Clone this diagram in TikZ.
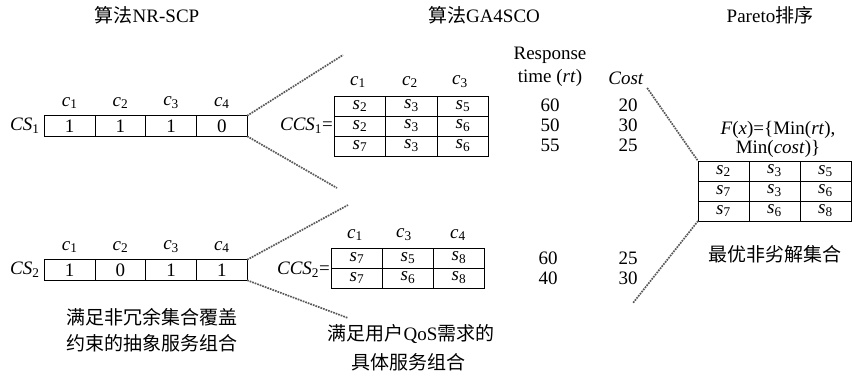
\documentclass[tikz,border=0pt]{standalone}
\usepackage{fontspec}
\setmainfont{Liberation Serif}
\newfontfamily\cjk{Noto Sans CJK SC}
\newcommand{\isub}[2]{\textit{#1}\textsubscript{#2}}

\begin{document}
\begin{tikzpicture}[x=1pt,y=-1pt,
    every node/.style={font=\fontsize{19}{22}\selectfont},
    cell/.style={draw, line width=0.8pt, minimum width=50.7pt, minimum height=20.5pt, inner sep=0pt, outer sep=0pt},
    link/.style={black!65, line width=1.7pt, dash pattern=on 1.7pt off 1pt}]
                \useasboundingbox (0,0) rectangle (852,376);

                % titles
                \node (alg1) at (147,15) {{\cjk 算法}NR-SCP};
                \node (alg2) at (484,15) {{\cjk 算法}GA4SCO};
                \node (alg3) at (770,15) {Pareto{\cjk 排序}};

                % abstract combination CS1
                \node[anchor=east] (cs1) at (43,126) {\isub{CS}{1}};
                \node[cell] (cs1-1) at (69.7,126) {1};
                \node[cell] (cs1-2) at (120.4,126) {1};
                \node[cell] (cs1-3) at (171.1,126) {1};
                \node[cell] (cs1-4) at (221.8,126) {0};
                \node (cs1-c1) at (69.7,103) {\isub{c}{1}};
                \node (cs1-c2) at (120.4,103) {\isub{c}{2}};
                \node (cs1-c3) at (171.1,103) {\isub{c}{3}};
                \node (cs1-c4) at (221.8,103) {\isub{c}{4}};

                % abstract combination CS2
                \node[anchor=east] (cs2) at (43,270) {\isub{CS}{2}};
                \node[cell] (cs2-1) at (69.7,270) {1};
                \node[cell] (cs2-2) at (120.4,270) {0};
                \node[cell] (cs2-3) at (171.1,270) {1};
                \node[cell] (cs2-4) at (221.8,270) {1};
                \node (cs2-c1) at (69.7,247) {\isub{c}{1}};
                \node (cs2-c2) at (120.4,247) {\isub{c}{2}};
                \node (cs2-c3) at (171.1,247) {\isub{c}{3}};
                \node (cs2-c4) at (221.8,247) {\isub{c}{4}};

                \node (note1) at (152,317) {\cjk 满足非冗余集合覆盖};
                \node (note2) at (152,343) {\cjk 约束的抽象服务组合};

                % concrete combinations CCS1
                \node[anchor=east,inner sep=1pt] (ccs1) at (334,126) {\isub{CCS}{1}=};
                \node[cell,minimum height=20pt,minimum width=51.7pt] (ccs1-11) at (360,106) {\isub{s}{2}};
                \node[cell,minimum height=20pt,minimum width=51.7pt] (ccs1-12) at (411.5,106) {\isub{s}{3}};
                \node[cell,minimum height=20pt,minimum width=51.7pt] (ccs1-13) at (463,106) {\isub{s}{5}};
                \node[cell,minimum height=20pt,minimum width=51.7pt] (ccs1-21) at (360,126) {\isub{s}{2}};
                \node[cell,minimum height=20pt,minimum width=51.7pt] (ccs1-22) at (411.5,126) {\isub{s}{3}};
                \node[cell,minimum height=20pt,minimum width=51.7pt] (ccs1-23) at (463,126) {\isub{s}{6}};
                \node[cell,minimum height=20pt,minimum width=51.7pt] (ccs1-31) at (360,146) {\isub{s}{7}};
                \node[cell,minimum height=20pt,minimum width=51.7pt] (ccs1-32) at (411.5,146) {\isub{s}{3}};
                \node[cell,minimum height=20pt,minimum width=51.7pt] (ccs1-33) at (463,146) {\isub{s}{6}};
                \node (ccs1-c1) at (358,82) {\isub{c}{1}};
                \node (ccs1-c2) at (410,82) {\isub{c}{2}};
                \node (ccs1-c3) at (460,82) {\isub{c}{3}};

                % concrete combinations CCS2
                \node[anchor=east,inner sep=1pt] (ccs2) at (331,270) {\isub{CCS}{2}=};
                \node[cell,minimum height=20pt,minimum width=51pt] (ccs2-11) at (357,258) {\isub{s}{7}};
                \node[cell,minimum height=20pt,minimum width=51pt] (ccs2-12) at (408,258) {\isub{s}{5}};
                \node[cell,minimum height=20pt,minimum width=51pt] (ccs2-13) at (459,258) {\isub{s}{8}};
                \node[cell,minimum height=20pt,minimum width=51pt] (ccs2-21) at (357,278) {\isub{s}{7}};
                \node[cell,minimum height=20pt,minimum width=51pt] (ccs2-22) at (408,278) {\isub{s}{6}};
                \node[cell,minimum height=20pt,minimum width=51pt] (ccs2-23) at (459,278) {\isub{s}{8}};
                \node (ccs2-c1) at (355,235) {\isub{c}{1}};
                \node (ccs2-c3) at (404,235) {\isub{c}{3}};
                \node (ccs2-c4) at (458,235) {\isub{c}{4}};

                \node (note3) at (411,334) {{\cjk 满足用户}QoS{\cjk 需求的}};
                \node (note4) at (408,362) {\cjk 具体服务组合};

                % QoS values
                \node (resp) at (550,55) {Response};
                \node (rt) at (550,78) {time (\textit{rt})};
                \node (cost) at (626,78) {\textit{Cost}};
                \node (rt11) at (550,105) {60};
                \node (rt12) at (550,125) {50};
                \node (rt13) at (550,145) {55};
                \node (co11) at (628,105) {20};
                \node (co12) at (628,125) {30};
                \node (co13) at (628,145) {25};
                \node (rt21) at (548,258) {60};
                \node (rt22) at (548,278) {40};
                \node (co21) at (628,258) {25};
                \node (co22) at (628,278) {30};

                % Pareto set
                \node (fx1) at (778,130) {\textit{F}(\textit{x})=\{Min(\textit{rt}),};
                \node (fx2) at (778,149) {Min(\textit{cost})\}};
                \node[cell,minimum height=20pt,minimum width=51pt] (par-11) at (723.5,171) {\isub{s}{2}};
                \node[cell,minimum height=20pt,minimum width=51pt] (par-12) at (774.5,171) {\isub{s}{3}};
                \node[cell,minimum height=20pt,minimum width=51pt] (par-13) at (825.5,171) {\isub{s}{5}};
                \node[cell,minimum height=20pt,minimum width=51pt] (par-21) at (723.5,191) {\isub{s}{7}};
                \node[cell,minimum height=20pt,minimum width=51pt] (par-22) at (774.5,191) {\isub{s}{3}};
                \node[cell,minimum height=20pt,minimum width=51pt] (par-23) at (825.5,191) {\isub{s}{6}};
                \node[cell,minimum height=20pt,minimum width=51pt] (par-31) at (723.5,211) {\isub{s}{7}};
                \node[cell,minimum height=20pt,minimum width=51pt] (par-32) at (774.5,211) {\isub{s}{6}};
                \node[cell,minimum height=20pt,minimum width=51pt] (par-33) at (825.5,211) {\isub{s}{8}};
                \node (best) at (775,254) {\cjk 最优非劣解集合};

                % dashed fans
                \coordinate (f1a) at (343,55);
                \coordinate (f1b) at (337,188);
                \coordinate (f2a) at (348,205);
                \coordinate (f2b) at (348,318);
                \coordinate (f3b) at (633,303);
                \draw[link] (cs1-4.north east) -- (f1a);
                \draw[link] (cs1-4.south east) -- (f1b);
                \draw[link] (cs2-4.north east) -- (f2a);
                \draw[link] (cs2-4.south east) -- (f2b);
                \draw[link] (cost.south east) -- (par-11.north west);
                \draw[link] (par-31.south west) -- (f3b);
            \end{tikzpicture}
\end{document}
